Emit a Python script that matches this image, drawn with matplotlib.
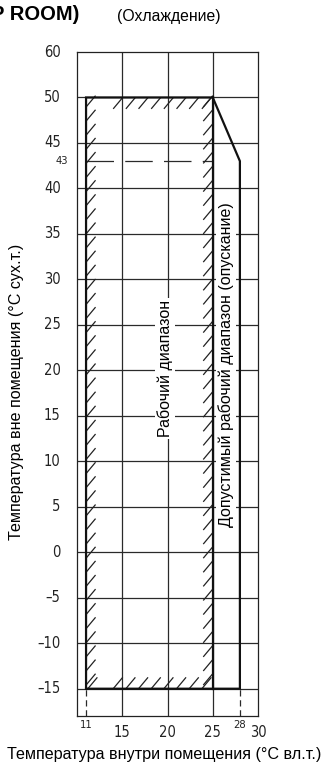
import numpy as np
import matplotlib
matplotlib.use("Agg")
import matplotlib.pyplot as plt
from matplotlib.collections import LineCollection

# ---- data ----
indoor_min = 11
indoor_max = 25
indoor_pulldown = 28
outdoor_min = -15
outdoor_max = 50
outdoor_pulldown = 43

y_ticks = [-15, -10, -5, 0, 5, 10, 15, 20, 25, 30, 35, 40, 45, 50]
y_top_label = "60"
x_ticks = [15, 20, 25, 30]
x_small_ticks = [11, 28]

title_text = "P ROOM)"
subtitle_text = "(Охлаждение)"
xlabel = "Температура внутри помещения (°С вл.т.)"
ylabel = "Температура вне помещения (°С сух.т.)"
label_work = "Рабочий диапазон"
label_pull = "Допустимый рабочий диапазон (опускание)"

# ---- figure ----
W, H = 325, 767
fig = plt.figure(figsize=(W / 100, H / 100), dpi=100)
ax = fig.add_axes([77 / W, 1 - 716 / H, (258 - 77) / W, (716 - 52) / H])
ax.set_xlim(10, 30)
ax.set_ylim(-18, 55)
ax.set_xticks([])
ax.set_yticks([])
for s in ax.spines.values():
    s.set_linewidth(0.9)
    s.set_color("#222222")

grid_c = "#2a2a2a"
# horizontal grid
for y in y_ticks:
    ax.axhline(y, color=grid_c, lw=0.9, zorder=1)
# vertical grid
for x in x_ticks[:-1]:
    ax.axvline(x, color=grid_c, lw=0.9, zorder=1)
# dashed lines to small ticks
for x in x_small_ticks:
    ax.plot([x, x], [-18, outdoor_min], color=grid_c, lw=0.9,
            dashes=(5, 3), zorder=1)
# dashed 43 line
ax.plot([indoor_min, indoor_max], [outdoor_pulldown, outdoor_pulldown],
        color=grid_c, lw=0.9, dashes=(22, 9), zorder=1)

# main envelope
env_x = [indoor_min, indoor_min, indoor_max, indoor_pulldown, indoor_pulldown, indoor_min]
env_y = [outdoor_min, outdoor_max, outdoor_max, outdoor_pulldown, outdoor_min, outdoor_min]
ax.plot(env_x, env_y, color="#111111", lw=1.6, zorder=4, solid_joinstyle="miter")
ax.plot([indoor_max, indoor_max], [outdoor_min, outdoor_max], color="#111111", lw=1.6, zorder=4)

# hatch strokes along inner edges of working box
dx, dy = 1.05, 1.25
segs = []
for y in np.arange(outdoor_min + 0.4, outdoor_max - 0.8, 1.55):
    segs.append([(indoor_min, y), (indoor_min + dx, y + dy)])
    segs.append([(indoor_max - dx, y), (indoor_max, y + dy)])
for x in np.arange(indoor_min + 3.0, indoor_max - 0.9, 1.4):
    segs.append([(x, outdoor_max - dy), (x + dx, outdoor_max)])
for x in np.arange(indoor_min + 0.2, indoor_max - 1.0, 1.4):
    if indoor_min + 1.4 < x < indoor_min + 2.8:
        continue
    segs.append([(x, outdoor_min), (x + dx, outdoor_min + dy)])
ax.add_collection(LineCollection(segs, colors="#222222", linewidths=0.9, zorder=3))

# labels inside
txt_kw = dict(rotation=90, ha="center", va="center", fontsize=11.5,
              family="Liberation Sans", zorder=5,
              bbox=dict(facecolor="white", edgecolor="none", pad=1.5))
ax.text(19.75, 20.2, label_work, **txt_kw)
ax.text(26.45, 20.6, label_pull, **txt_kw)

# tick labels
tick_font = dict(family="DejaVu Sans", stretch="condensed", color="#222222")
for y in y_ticks:
    ax.text(-0.09, y, str(y).replace("-", "\u2013"), transform=ax.get_yaxis_transform(),
            ha="right", va="center", fontsize=10.5, **tick_font)
ax.text(-0.09, 55, y_top_label, transform=ax.get_yaxis_transform(),
        ha="right", va="center", fontsize=10.5, **tick_font)
ax.text(-0.05, outdoor_pulldown, str(outdoor_pulldown), transform=ax.get_yaxis_transform(),
        ha="right", va="center", fontsize=8, **tick_font)
for x in x_ticks:
    ax.text(x, -0.014, str(x), transform=ax.get_xaxis_transform(),
            ha="center", va="top", fontsize=10.5, **tick_font)
for x in x_small_ticks:
    ax.text(x, -0.006, str(x), transform=ax.get_xaxis_transform(),
            ha="center", va="top", fontsize=8, **tick_font)

fig.text(164 / W, 1 - 754 / H, xlabel, ha="center", va="center",
         fontsize=11.6, family="Liberation Sans")
fig.text(17 / W, 1 - 392 / H, ylabel, ha="center", va="center", rotation=90,
         fontsize=11.6, family="Liberation Sans")
fig.text(-9 / W, 1 - 15 / H, title_text, ha="left", va="center",
         fontsize=14.5, fontweight="bold", family="Liberation Sans")
fig.text(169 / W, 1 - 17 / H, subtitle_text, ha="center", va="center",
         fontsize=11.3, family="Liberation Sans")

fig.savefig("out.png", dpi=100)
